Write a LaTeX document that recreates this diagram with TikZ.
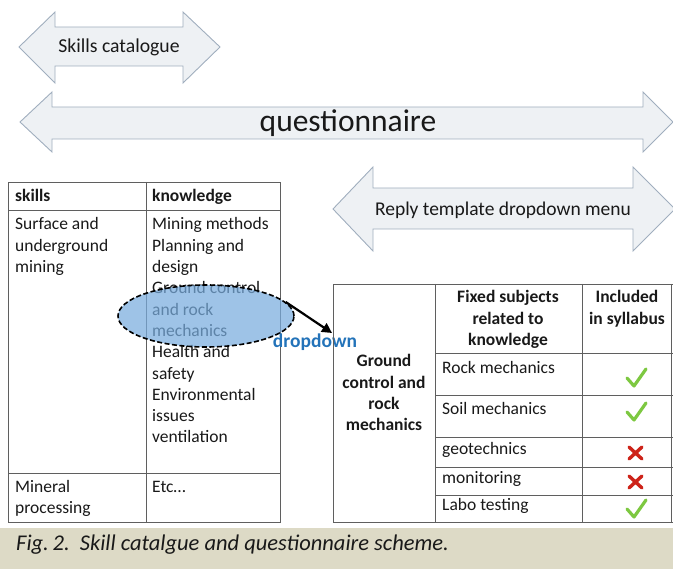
\documentclass[tikz,border=0pt]{standalone}
\usepackage{fontspec}
\setmainfont{Carlito}
\usetikzlibrary{shapes.geometric,arrows.meta}
\definecolor{arrfill}{RGB}{238,241,244}
\definecolor{arrdraw}{RGB}{160,174,190}
\definecolor{tabline}{RGB}{95,95,95}
\definecolor{ellfill}{RGB}{120,172,222}
\definecolor{ddblue}{RGB}{35,115,185}
\definecolor{capbg}{RGB}{221,218,198}
\definecolor{chk}{RGB}{125,200,65}
\definecolor{crs}{RGB}{205,35,25}
\definecolor{txt}{RGB}{25,25,25}
\begin{document}
\begin{tikzpicture}[x=1pt,y=-1pt,
  bigarrow/.style={fill=arrfill,draw=arrdraw,line width=0.9pt,line join=miter},
  tab/.style={draw=tabline,line width=0.9pt},
  tt/.style={inner sep=0pt,text=txt,font=\fontsize{17.5}{21.3}\selectfont,align=left},
  th/.style={inner sep=0pt,text=txt,font=\fontsize{17.5}{21.3}\selectfont\bfseries,align=center},
  chkmark/.style={draw=chk,line width=3.2pt,line cap=round,line join=round},
  crsmark/.style={draw=crs,line width=3.4pt,line cap=round}
]
\useasboundingbox (0,0) rectangle (673,569);
% big double arrows
\draw[bigarrow] (19,47) -- (55,12) -- (55,27) -- (183,27) -- (183,12) -- (220,47)
  -- (183,83) -- (183,66) -- (55,66) -- (55,83) -- cycle;
\node[inner sep=0pt,font=\fontsize{19.7}{22}\selectfont,text=txt] (skillscat) at (119,47) {Skills catalogue};
\draw[bigarrow] (20,122) -- (52,92) -- (52,107) -- (643,107) -- (643,92) -- (673,122)
  -- (643,152) -- (643,139) -- (52,139) -- (52,152) -- cycle;
\node[inner sep=0pt,font=\fontsize{31.5}{34}\selectfont,text=txt] (quest) at (348,123) {questionnaire};
\draw[bigarrow] (333,209) -- (373,167) -- (373,188) -- (633,188) -- (633,167) -- (675,209)
  -- (633,251) -- (633,229) -- (373,229) -- (373,251) -- cycle;
\node[inner sep=0pt,font=\fontsize{19.5}{22}\selectfont,text=txt] (reply) at (503,210) {Reply template dropdown menu};

% left table
\draw[tab] (8,182) rectangle (280,522);
\draw[tab] (146,182) -- (146,522);
\draw[tab] (8,210) -- (280,210);
\draw[tab] (8,473) -- (280,473);
\node[tt,anchor=base west,font=\fontsize{17.5}{21.3}\selectfont\bfseries] (hskills) at (15,202) {skills};
\node[tt,anchor=base west,font=\fontsize{17.5}{21.3}\selectfont\bfseries] (hknow) at (152,202) {knowledge};
\node[tt,anchor=base west] (surf) at (15,230) {Surface and};
\node[tt,anchor=base west] (under) at (15,251.3) {underground};
\node[tt,anchor=base west] (mining) at (15,272.6) {mining};
\node[tt,anchor=base west] (k1) at (152,230) {Mining methods};
\node[tt,anchor=base west] (k2) at (152,251.3) {Planning and};
\node[tt,anchor=base west] (k3) at (152,272.6) {design};
\node[tt,anchor=base west] (k4) at (152,293.9) {Ground control};
\node[tt,anchor=base west] (k5) at (152,315.2) {and rock};
\node[tt,anchor=base west] (k6) at (152,336.5) {mechanics};
\node[tt,anchor=base west] (k7) at (152,357.8) {Health and};
\node[tt,anchor=base west] (k8) at (152,379.1) {safety};
\node[tt,anchor=base west] (k9) at (152,400.4) {Environmental};
\node[tt,anchor=base west] (k10) at (152,421.7) {issues};
\node[tt,anchor=base west] (k11) at (152,443) {ventilation};
\node[tt,anchor=base west] (min1) at (15,493) {Mineral};
\node[tt,anchor=base west] (min2) at (15,514) {processing};
\node[tt,anchor=base west] (etc) at (152,493) {Etc\dots};

% ellipse
\node[ellipse,minimum width=176pt,minimum height=62pt,fill=ellfill,fill opacity=0.72,
  draw=black,line width=1.6pt,dash pattern=on 5pt off 2.5pt] (ell) at (206,316) {};
\coordinate (ddtip) at (332,333);
\draw[line width=2.2pt,-{Triangle[length=10pt,width=10pt]}] (ell.10) -- (ddtip);
\node[inner sep=0pt,anchor=base,font=\fontsize{19.5}{22}\selectfont\bfseries,text=ddblue] (dd) at (315,348) {dropdown};

% right table
\draw[tab] (673,284) -- (333,284) -- (333,522) -- (673,522);
\draw[tab] (435,284) -- (435,522);
\draw[tab] (582,284) -- (582,522);
\draw[tab] (671,284) -- (671,522);
\foreach \yy in {353,395,437,467,495} {\draw[tab] (435,\yy) -- (673,\yy);}
\node[th,anchor=base] (f1) at (508,303) {Fixed subjects};
\node[th,anchor=base] (f2) at (508,324.3) {related to};
\node[th,anchor=base] (f3) at (508,345.6) {knowledge};
\node[th,anchor=base] (i1) at (627,303) {Included};
\node[th,anchor=base] (i2) at (627,324.3) {in syllabus};
\node[th,anchor=base] (g1) at (384,367) {Ground};
\node[th,anchor=base] (g2) at (384,388.3) {control and};
\node[th,anchor=base] (g3) at (384,409.6) {rock};
\node[th,anchor=base] (g4) at (384,430.9) {mechanics};
\node[tt,anchor=base west] (r1) at (442,374) {Rock mechanics};
\node[tt,anchor=base west] (r2) at (442,415) {Soil mechanics};
\node[tt,anchor=base west] (r3) at (442,455) {geotechnics};
\node[tt,anchor=base west] (r4) at (442,484) {monitoring};
\node[tt,anchor=base west] (r5) at (442,511) {Labo testing};
% checks and crosses
\foreach \yc in {378,412,509} {
  \draw[chkmark] (627,\yc) -- (634,\yc+8) -- (646,\yc-9);
}
\foreach \yc in {453,482} {
  \draw[crsmark] (629,\yc-6) -- (642,\yc+6);
  \draw[crsmark] (642,\yc-6) -- (629,\yc+6);
}

% caption band
\fill[capbg] (0,528) rectangle (673,569);
\node[inner sep=0pt,anchor=base west,font=\fontsize{22.5}{26}\selectfont\itshape,text=txt] (cap) at (16,551) {Fig.\,2.\ \ Skill catalgue and questionnaire scheme.};
\end{tikzpicture}
\end{document}
